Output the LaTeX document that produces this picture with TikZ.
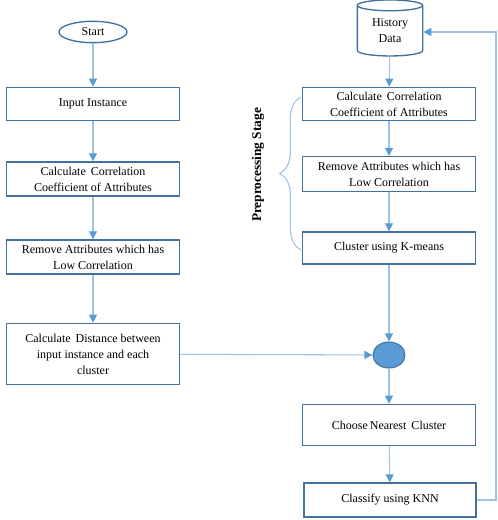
\documentclass[tikz,border=0pt]{standalone}
\usepackage{fontspec}
\setmainfont{Liberation Serif}
\usepackage{xcolor}
\usepackage{tikz}
\usetikzlibrary{positioning,shapes.geometric,arrows.meta,decorations.pathreplacing}
\definecolor{boxblue}{HTML}{41719C}
\definecolor{lineblue}{HTML}{9DC3E6}
\definecolor{tipblue}{HTML}{5B9BD5}

\tikzset{
  stepbox/.style={draw=boxblue, line width=1pt, fill=white, minimum width=130pt, align=center, font=\fontsize{9}{12}\selectfont},
  flow/.style={draw=lineblue, line width=0.8pt, -{Triangle[width=6pt,length=6pt,fill=tipblue,color=tipblue]}},
}

\begin{document}
\begin{tikzpicture}[x=0.75pt, y=-0.75pt]
          \useasboundingbox (0,0) rectangle (497,520);
          % left column
          \node[draw=boxblue, line width=1pt, ellipse, minimum width=51pt, minimum height=16pt, inner sep=0pt, font=\fontsize{9}{12}\selectfont] (start) at (93,32) {Start};
          \node[stepbox, minimum height=25pt] (inp) at (93,104) {Input Instance};
          \node[stepbox, minimum height=25.5pt] (corrL) at (93,179) {Calculate\, Correlation\\Coefficient of Attributes};
          \node[stepbox, minimum height=25.5pt] (remL) at (93,257) {Remove Attributes which has\\Low Correlation};
          \node[stepbox, minimum height=46pt] (dist) at (93,354) {Calculate\, Distance between\\input instance and each\\cluster};
          % right column
          \node[draw=boxblue, line width=1pt, cylinder, shape border rotate=90, aspect=0.3, minimum width=49pt, minimum height=42pt, inner sep=0pt, align=center, font=\fontsize{9}{12}\selectfont] (hist) at (390,31) {History\\Data};
          \node[stepbox, minimum height=25pt] (corrR) at (389,104) {Calculate\, Correlation\\Coefficient of Attributes};
          \node[stepbox, minimum height=26pt] (remR) at (389,174) {Remove Attributes which has\\Low Correlation};
          \node[stepbox, minimum height=24pt] (kmeans) at (389,248) {Cluster using K-means};
          \node[draw=boxblue, line width=0.8pt, fill=tipblue, ellipse, minimum width=24pt, minimum height=19.5pt, inner sep=0pt] (join) at (389,355) {};
          \node[stepbox, minimum height=31pt] (near) at (389,425) {Choose\,Nearest\, Cluster};
          \node[stepbox, minimum height=25.5pt, minimum width=129pt] (knn) at (390,500) {Classify using KNN};
          % preprocessing brace
          \draw[lineblue, line width=0.8pt, decorate, decoration={brace, amplitude=16pt}] (301,250) -- (301,97);
          \node[rotate=90, font=\fontsize{10}{12}\selectfont\bfseries] (prep) at (258,165) {Preprocessing Stage};
          \draw[flow] (start) -- (inp);
          \draw[flow] (inp) -- (corrL);
          \draw[flow] (corrL) -- (remL);
          \draw[flow] (remL) -- (dist);
          \draw[flow] (hist) -- (corrR);
          \draw[flow] (corrR) -- (remR);
          \draw[flow] (remR) -- (kmeans);
          \draw[flow] (kmeans) -- (join);
          \draw[flow] (dist) -- (join);
          \draw[flow] (join) -- (near);
          \draw[flow] (near) -- (knn);
          \draw[flow] (knn.east) -- (496,500) -- (496,32) -- (hist.east |- 0,32);
        \end{tikzpicture}
\end{document}
